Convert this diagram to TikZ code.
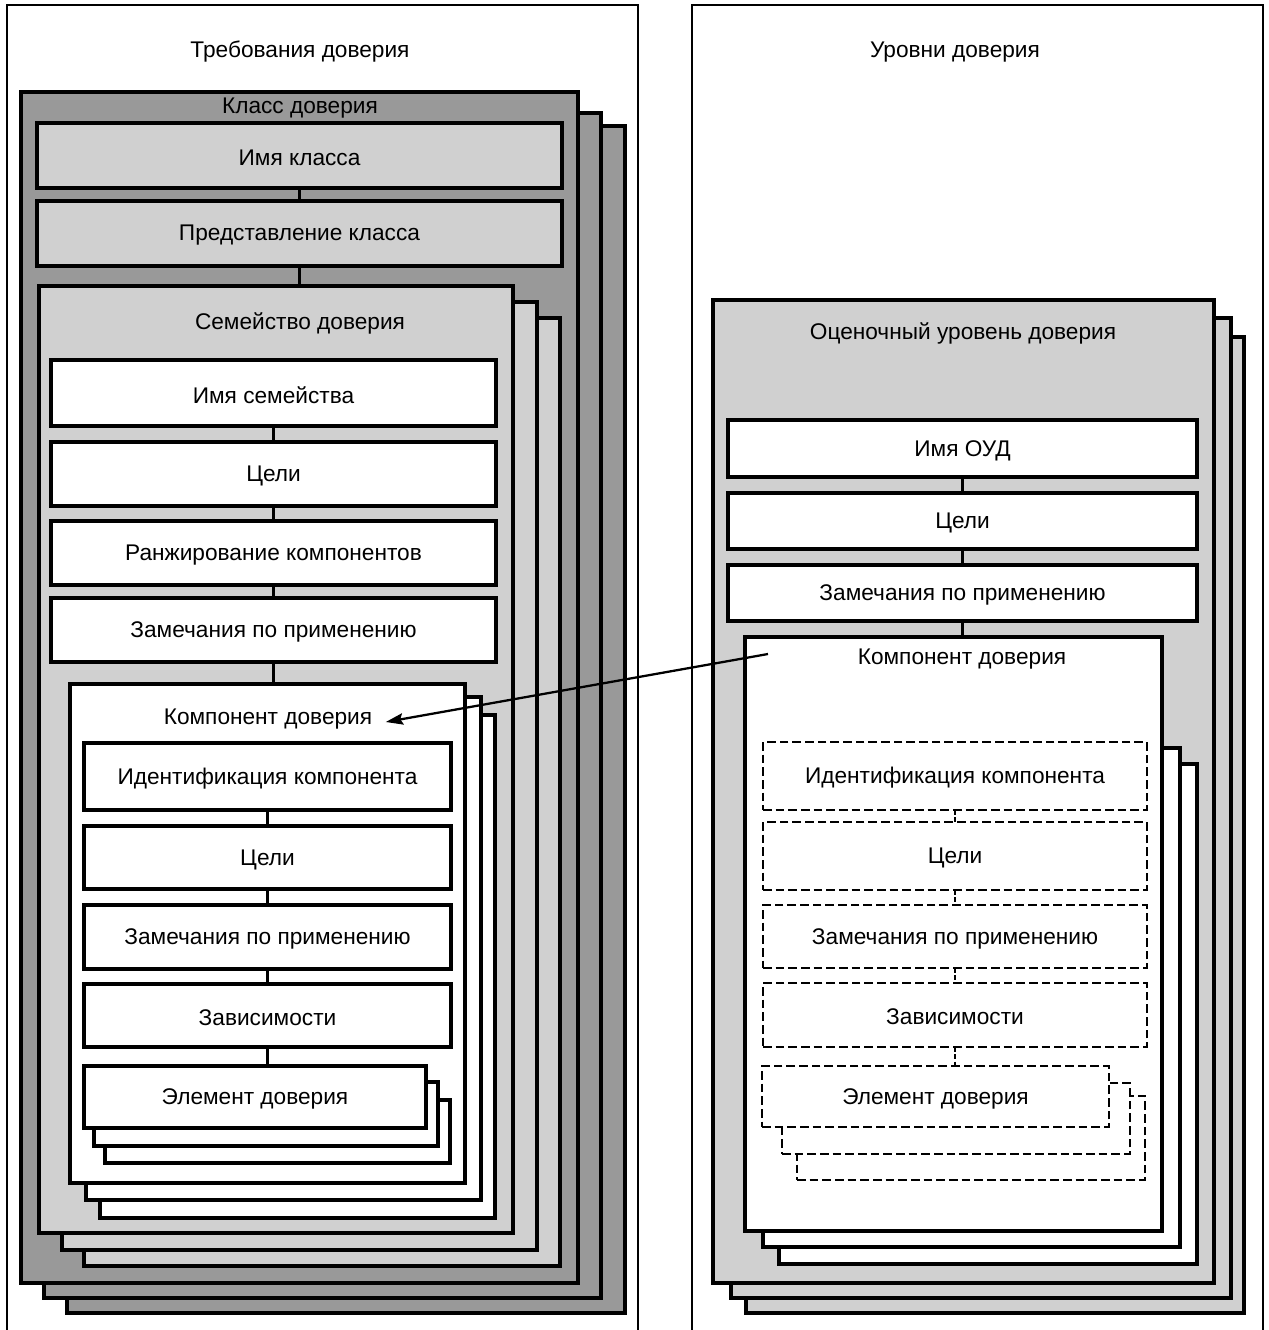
\documentclass[tikz,border=0pt]{standalone}
\usepackage{fontspec}
\setmainfont{Liberation Sans}
\usetikzlibrary{fit,arrows.meta,calc}
\definecolor{darkfill}{RGB}{153,153,153}
\definecolor{lightfill}{RGB}{208,208,208}
\begin{document}
\begin{tikzpicture}[x=0.75pt,y=-0.75pt,
  font=\fontsize{17}{20}\selectfont,
  frame/.style={line width=2pt},
  bx/.style={draw, line width=2.4pt, inner sep=0pt, outer sep=0pt},
  darkbox/.style={bx, fill=darkfill},
  lightbox/.style={bx, fill=lightfill},
  whitebox/.style={bx, fill=white},
  dashbox/.style={draw, line width=1.9pt, dash pattern=on 6.5pt off 3pt, fill=white, inner sep=0pt, outer sep=0pt},
  link/.style={line width=2pt},
  dlink/.style={line width=1.9pt, dash pattern=on 3.5pt off 2pt},
  lbl/.style={inner sep=1pt, yshift=-1.5pt},
  arrowline/.style={line width=1.7pt, -{Stealth[length=13pt,width=8.5pt,inset=2pt]}}
]
\useasboundingbox (0,0) rectangle (1268,1330);
% outer frames
\draw[frame] (7,1332) -- (7,5) -- (638,5) -- (638,1332);
\draw[frame] (692,1332) -- (692,5) -- (1263,5) -- (1263,1332);
\node[lbl] (ltitle) at (300,50) {Требования доверия};
\node[lbl] (rtitle) at (955,50) {Уровни доверия};

% ===== Left: class stack
\node[darkbox, fit={(67,126) (625,1313)}] (cls3) {};
\node[darkbox, fit={(44,113) (601,1298)}] (cls2) {};
\node[darkbox, fit={(21,92) (578,1283)}] (cls) {};
\node[lbl] (clslbl) at (300,106) {Класс доверия};
\node[lightbox, fit={(37,123) (562,188)}] (cname) {};
\node[lbl] at (cname) {Имя класса};
\node[lightbox, fit={(37,201) (562,266)}] (cpres) {};
\node[lbl] at (cpres) {Представление класса};

% family stack
\node[lightbox, fit={(84,318) (560,1266)}] (fam3) {};
\node[lightbox, fit={(62,302) (537,1250)}] (fam2) {};
\node[lightbox, fit={(39,286) (513,1233)}] (fam) {};
\node[lbl] (famlbl) at (300,321) {Семейство доверия};
\node[whitebox, fit={(51,360) (496,426)}] (fname) {};
\node[lbl] at (fname) {Имя семейства};
\node[whitebox, fit={(51,442) (496,506)}] (fgoal) {};
\node[lbl] at (fgoal) {Цели};
\node[whitebox, fit={(51,521) (496,585)}] (frank) {};
\node[lbl] at (frank) {Ранжирование компонентов};
\node[whitebox, fit={(51,598) (496,662)}] (fnote) {};
\node[lbl] at (fnote) {Замечания по применению};

% component stack (left)
\node[whitebox, fit={(100,715) (495,1218)}] (comp3) {};
\node[whitebox, fit={(86,697) (481,1200)}] (comp2) {};
\node[whitebox, fit={(70,684) (465,1183)}] (comp) {};
\node[lbl] (complbl) at (268,717) {Компонент доверия};
\node[whitebox, fit={(84,743) (451,810)}] (cid) {};
\node[lbl] at (cid) {Идентификация компонента};
\node[whitebox, fit={(84,826) (451,889)}] (cgoal) {};
\node[lbl] at (cgoal) {Цели};
\node[whitebox, fit={(84,905) (451,969)}] (cnote) {};
\node[lbl] at (cnote) {Замечания по применению};
\node[whitebox, fit={(84,984) (451,1047)}] (cdep) {};
\node[lbl] at (cdep) {Зависимости};
\node[whitebox, fit={(105,1100) (450,1163)}] (el3) {};
\node[whitebox, fit={(94,1082) (438,1146)}] (el2) {};
\node[whitebox, fit={(84,1066) (426,1128)}] (el) {};
\node[lbl] at (el) {Элемент доверия};

% left connectors
\draw[link] (cname.south) -- (cpres.north);
\draw[link] (cpres.south) -- (cpres.south |- fam.north);
\draw[link] (fname.south) -- (fgoal.north);
\draw[link] (fgoal.south) -- (frank.north);
\draw[link] (frank.south) -- (fnote.north);
\draw[link] (fnote.south) -- (fnote.south |- comp.north);
\draw[link] (cid.south) -- (cgoal.north);
\draw[link] (cgoal.south) -- (cnote.north);
\draw[link] (cnote.south) -- (cdep.north);
\draw[link] (cdep.south) -- (cdep.south |- el.north);

% ===== Right: EAL stack
\node[lightbox, fit={(746,337) (1244,1313)}] (eal3) {};
\node[lightbox, fit={(731,318) (1231,1298)}] (eal2) {};
\node[lightbox, fit={(713,300) (1214,1283)}] (eal) {};
\node[lbl] (eallbl) at (963,331) {Оценочный уровень доверия};
\node[whitebox, fit={(728,420) (1197,477)}] (ename) {};
\node[lbl] at (ename) {Имя ОУД};
\node[whitebox, fit={(728,493) (1197,549)}] (egoal) {};
\node[lbl] at (egoal) {Цели};
\node[whitebox, fit={(728,565) (1197,621)}] (enote) {};
\node[lbl] at (enote) {Замечания по применению};

\node[whitebox, fit={(779,764) (1197,1264)}] (rcomp3) {};
\node[whitebox, fit={(763,748) (1180,1247)}] (rcomp2) {};
\node[whitebox, fit={(745,637) (1162,1231)}] (rcomp) {};
\node[lbl] (rcomplbl) at (962,657) {Компонент доверия};
\node[dashbox, fit={(763,742) (1147,810)}] (rid) {};
\node[lbl] at (rid) {Идентификация компонента};
\node[dashbox, fit={(763,822) (1147,890)}] (rgoal) {};
\node[lbl] at (rgoal) {Цели};
\node[dashbox, fit={(763,905) (1147,968)}] (rnote) {};
\node[lbl] at (rnote) {Замечания по применению};
\node[dashbox, fit={(763,983) (1147,1047)}] (rdep) {};
\node[lbl] at (rdep) {Зависимости};
\node[dashbox, fit={(797,1096) (1145,1180)}] (rel3) {};
\node[dashbox, fit={(782,1083) (1130,1154)}] (rel2) {};
\node[dashbox, fit={(762,1066) (1109,1127)}] (rel) {};
\node[lbl] at (rel) {Элемент доверия};

% right connectors
\draw[link] (ename.south) -- (egoal.north);
\draw[link] (egoal.south) -- (enote.north);
\draw[link] (enote.south) -- (enote.south |- rcomp.north);
\draw[dlink] (rid.south) -- (rgoal.north);
\draw[dlink] (rgoal.south) -- (rnote.north);
\draw[dlink] (rnote.south) -- (rdep.north);
\draw[dlink] (rdep.south) -- (rdep.south |- rel.north);

% arrow
\coordinate (arrS) at (768,654);
\draw[arrowline] (arrS) -- ($(complbl.east)+(12,3)$);
\end{tikzpicture}
\end{document}
